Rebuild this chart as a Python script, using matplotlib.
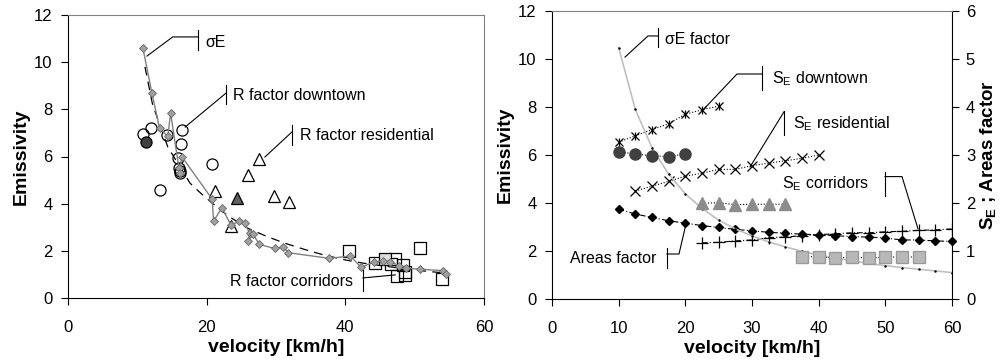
import matplotlib
matplotlib.use("Agg")
import matplotlib.pyplot as plt

plt.rcParams['font.family'] = ['Liberation Sans', 'DejaVu Sans']
plt.rcParams['mathtext.fontset'] = 'custom'
plt.rcParams['mathtext.rm'] = 'Liberation Sans'
plt.rcParams['mathtext.bf'] = 'Liberation Sans:bold'

# ---- left panel data (velocity km/h, emissivity) ----
sig_v = [10.8, 12.1, 13.2, 14.4, 14.8, 16.0, 16.1, 16.4, 20.8, 21.0, 22.2, 23.5, 24.7, 25.5,
         26.2, 26.0, 26.7, 27.6, 29.8, 31.0, 31.8, 37.7, 40.7, 42.3, 44.2, 45.4, 46.5, 47.8,
         48.7, 50.8, 54.1, 54.5]
sig_E = [10.6, 8.7, 7.2, 6.85, 7.85, 5.5, 5.3, 6.0, 4.19, 3.26, 3.83, 3.09, 3.26, 3.16,
         2.74, 2.43, 2.70, 2.27, 2.10, 2.17, 1.92, 1.68, 1.78, 1.30, 1.54, 1.58, 1.54, 1.36,
         1.26, 1.22, 1.16, 1.00]

fit_v = [11.1, 12.2, 14.4, 17.6, 19.2, 21.6, 23.3, 26.0, 28.6, 31.2, 34.0, 36.7, 39.9, 42.5,
         45.0, 47.5, 50.0, 52.5, 54.5]
fit_E = [9.8, 8.2, 6.4, 4.87, 4.43, 3.82, 3.44, 2.95, 2.62, 2.33, 2.07, 1.84, 1.62, 1.48,
         1.38, 1.28, 1.19, 1.11, 1.06]

down_v = [10.8, 12.0, 14.3, 16.4, 16.3, 15.9, 16.0, 16.2, 16.1, 20.8, 13.2]
down_E = [6.97, 7.19, 6.9, 7.12, 6.55, 5.92, 5.5, 5.3, 5.4, 5.7, 4.6]
down_ref_v = [11.3]
down_ref_E = [6.63]

res_v = [21.2, 26.0, 27.6, 23.5, 29.7, 31.9]
res_E = [4.53, 5.2, 5.88, 3.05, 4.34, 4.08]
res_ref_v = [24.4]
res_ref_E = [4.25]

cor_v = [40.6, 44.3, 47.2, 46.6, 48.3, 47.4, 48.6, 48.6, 50.7, 54.0]
cor_E = [2.0, 1.5, 1.64, 1.44, 1.4, 0.92, 0.98, 1.12, 2.14, 0.82]
cor_ref_v = [45.7]
cor_ref_E = [1.65]

# ---- right panel data ----
sf_v = [10, 12.5, 15, 17.5, 20, 22.5, 25, 27.5, 30, 32.5, 35, 37.5, 40, 42.5, 45, 47.5,
        50, 52.5, 55, 57.5, 60]
sf_E = [10.47, 7.9, 6.3, 5.2, 4.38, 3.77, 3.29, 2.92, 2.63, 2.38, 2.17, 1.99, 1.83, 1.70,
        1.59, 1.48, 1.39, 1.31, 1.24, 1.17, 1.10]

rd_v = [10, 12.5, 15, 17.5, 20]
rd_E = [6.14, 6.04, 5.97, 5.93, 6.05]
rr_v = [22.5, 25, 27.5, 30, 32.5, 35]
rr_E = [3.99, 4.01, 3.93, 3.95, 3.95, 3.95]
rc_v = [37.5, 40, 42.5, 45, 47.5, 50, 52.5, 55]
rc_E = [1.76, 1.76, 1.70, 1.75, 1.70, 1.75, 1.75, 1.75]

# secondary axis values (S_E ; Areas factor)
sed_v = [10, 12.5, 15, 17.5, 20, 22.5, 25]
sed_S = [3.27, 3.40, 3.53, 3.65, 3.85, 3.94, 4.02]
ser_v = [12.5, 15, 17.5, 20, 22.5, 25, 27.5, 30, 32.5, 35, 37.5, 40]
ser_S = [2.25, 2.35, 2.45, 2.56, 2.62, 2.70, 2.70, 2.78, 2.83, 2.88, 2.93, 3.00]
sec_v = [22.5, 25, 27.5, 30, 32.5, 35, 37.5, 40, 42.5, 45, 47.5, 50, 52.5, 55, 57.5, 60]
sec_S = [1.17, 1.18, 1.21, 1.23, 1.28, 1.29, 1.32, 1.34, 1.36, 1.38, 1.38, 1.40, 1.41,
         1.43, 1.44, 1.46]
area_v = [10, 12.5, 15, 17.5, 20, 22.5, 25, 27.5, 30, 32.5, 35, 37.5, 40, 42.5, 45, 47.5,
          50, 52.5, 55, 57.5, 60]
area_S = [1.87, 1.77, 1.70, 1.63, 1.58, 1.53, 1.49, 1.45, 1.42, 1.39, 1.37, 1.35, 1.34,
          1.32, 1.30, 1.29, 1.27, 1.23, 1.23, 1.21, 1.20]

FS = 11.5


def style_axes(ax):
    for s in ['top', 'right']:
        ax.spines[s].set_color('#808080')
    for s in ['left', 'bottom']:
        ax.spines[s].set_color('black')
    ax.tick_params(direction='out', length=5, labelsize=12, color='black')
    ax.tick_params(axis='x', pad=11)
    ax.tick_params(axis='y', pad=6)


def callout(ax, xs, ys, bar_x, bar_y, text, tx, ty, ha='left'):
    ax.plot(xs, ys, color='black', lw=0.8, clip_on=False)
    ax.plot([bar_x, bar_x], bar_y, color='black', lw=0.8, clip_on=False)
    ax.text(tx, ty, text, fontsize=FS, ha=ha, va='center')


fig = plt.figure(figsize=(10.01, 3.63), dpi=100)

# ---------------- left panel ----------------
ax1 = fig.add_axes([68 / 1001, 65 / 363, 416 / 1001, 283 / 363])
ax1.plot(fit_v, fit_E, color='black', lw=0.9, ls=(0, (7, 5)))
ax1.plot(down_v, down_E, 'o', ms=8, mfc='none', mec='black', mew=0.9)
ax1.plot(down_ref_v, down_ref_E, 'o', ms=8, mfc='#404040', mec='black', mew=0.9)
ax1.plot(res_v, res_E, '^', ms=8, mfc='none', mec='black', mew=0.9)
ax1.plot(res_ref_v, res_ref_E, '^', ms=8, mfc='#606060', mec='black', mew=0.9)
ax1.plot(cor_v, cor_E, 's', ms=8, mfc='none', mec='black', mew=0.9)
ax1.plot(cor_ref_v, cor_ref_E, 's', ms=8, mfc='#dddddd', mec='black', mew=0.9)
ax1.plot(sig_v, sig_E, color='#808080', lw=1.0, marker='D', ms=4.2,
         mfc='#a0a0a0', mec='#666666', mew=0.6)

ax1.set_xlim(0, 60)
ax1.set_ylim(0, 12)
ax1.set_xticks([0, 20, 40, 60])
ax1.set_yticks(range(0, 13, 2))
ax1.set_xlabel('velocity [km/h]', fontsize=14, fontweight='bold', labelpad=3)
ax1.set_ylabel('Emissivity', fontsize=14, fontweight='bold', labelpad=3)
style_axes(ax1)

callout(ax1, [11.4, 15.1, 18.75], [10.26, 11.07, 11.07], 18.75, [10.52, 11.37],
        'σE', 19.8, 10.82)
callout(ax1, [16.9, 22.8], [7.25, 8.69], 22.8, [8.23, 9.03],
        'R factor downtown', 23.8, 8.6)
callout(ax1, [28.4, 32.3], [5.98, 7.04], 32.3, [6.49, 7.34],
        'R factor residential', 33.4, 6.9)
callout(ax1, [42.55, 47.2], [0.85, 0.98], 42.55, [0.30, 1.19],
        'R factor corridors', 41.1, 0.72, ha='right')

# ---------------- right panel ----------------
ax2 = fig.add_axes([552 / 1001, 64 / 363, 400 / 1001, 288 / 363])
ax3 = ax2.twinx()
ax2.set_zorder(ax3.get_zorder() + 1)
ax2.patch.set_visible(False)

ax2.plot(sf_v, sf_E, color='#c0c0c0', lw=1.2, marker='.', ms=1.5, mfc='black', mec='black')
ax2.plot(rd_v, rd_E, color='black', lw=0.8, ls=':', marker='o', ms=8,
         mfc='#404040', mec='#404040')
ax2.plot(rr_v, rr_E, color='black', lw=0.8, ls=':', marker='^', ms=8.5,
         mfc='#8c8c8c', mec='#8c8c8c')
ax2.plot(rc_v, rc_E, color='black', lw=0.8, ls=':', marker='s', ms=8.5,
         mfc='#b8b8b8', mec='#9a9a9a')

ax3.plot(sed_v, sed_S, color='black', lw=0.8, ls=':', marker='x', ms=6, mew=0.9)
ax3.plot(sed_v, sed_S, ls='none', marker='|', ms=6, mew=0.9, color='black')
ax3.plot(ser_v, ser_S, color='black', lw=0.8, ls=':', marker='x', ms=6.5, mew=0.9)
ax3.plot(sec_v, sec_S, color='black', lw=0.8, ls=(0, (5, 2, 1, 2)), marker='+', ms=8, mew=0.9)
ax3.plot(area_v, area_S, color='black', lw=0.8, ls=(0, (5, 2, 1, 2)), marker='D', ms=4,
         clip_on=False)

ax2.set_xlim(0, 60)
ax2.set_ylim(0, 12)
ax3.set_ylim(0, 6)
ax2.set_xticks(range(0, 61, 10))
ax2.set_yticks(range(0, 13, 2))
ax3.set_yticks(range(0, 7))
ax2.set_xlabel('velocity [km/h]', fontsize=14, fontweight='bold', labelpad=3)
ax2.set_ylabel('Emissivity', fontsize=14, fontweight='bold', labelpad=3)
ax3.set_ylabel(r'$\mathbf{S_E}$ ; Areas factor', fontsize=13.5, fontweight='bold',
               rotation=90, labelpad=2)
style_axes(ax2)
for s in ['top', 'right', 'left', 'bottom']:
    ax3.spines[s].set_visible(False)
ax2.spines['right'].set_color('black')
ax3.tick_params(direction='out', length=5, labelsize=12, pad=5)

callout(ax2, [10.95, 14.4, 15.9], [10.08, 10.96, 10.96], 15.9, [10.5, 11.29],
        'σE factor', 16.95, 10.8)
callout(ax2, [22.65, 27.75, 31.5], [7.875, 9.375, 9.375], 31.5, [8.71, 9.71],
        r'S$_{\rm E}$ downtown', 33.0, 9.2)
callout(ax2, [29.7, 34.8], [5.5, 7.8], 34.8, [6.83, 7.83],
        r'S$_{\rm E}$ residential', 36.15, 7.3)
callout(ax2, [49.95, 52.5, 54.9], [5.1, 5.1, 2.92], 49.95, [4.29, 5.29],
        r'S$_{\rm E}$ corridors', 47.5, 4.8, ha='right')
callout(ax2, [17.25, 19.05, 20.1], [1.875, 1.875, 3.125], 17.25, [1.29, 2.125],
        'Areas factor', 15.6, 1.7, ha='right')

fig.savefig('out.png', dpi=100)
